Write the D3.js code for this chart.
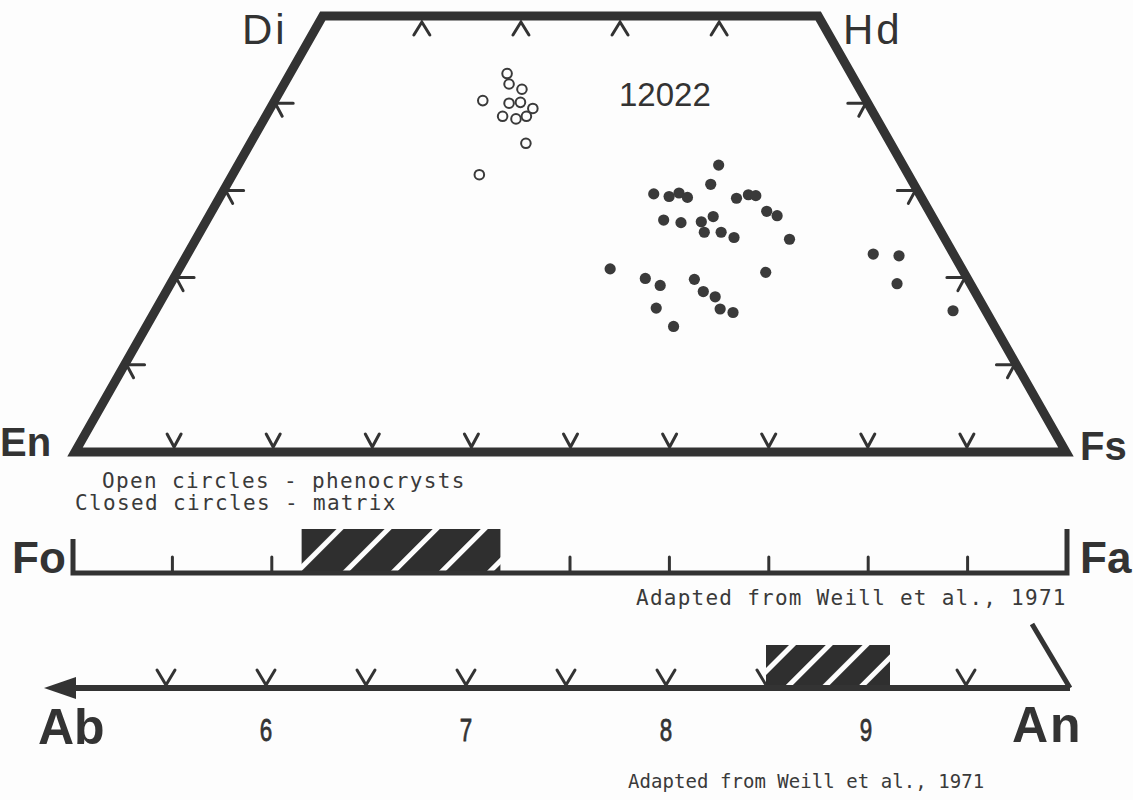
<!DOCTYPE html>
<html>
<head>
  <meta charset="utf-8">
  <title>12022 pyroxene, olivine and plagioclase compositions</title>
  <script src="https://cdnjs.cloudflare.com/ajax/libs/d3/7.8.5/d3.min.js"></script>
  <style>
    body { margin: 0; background: #fdfdfd; }
    svg { display: block; }
    .edge { fill: none; stroke: #333; stroke-linejoin: miter; }
    .tick { fill: none; stroke: #333; stroke-width: 3; stroke-linecap: round; }
    .lbl { fill: #333; font-family: "Liberation Sans", Arial, sans-serif; }
    .mono { fill: #3a3a3a; font-family: "DejaVu Sans Mono", "Liberation Mono", monospace; }
  </style>
</head>
<body>
  <div id="chart"></div>
  <script>
    const phenoWo = [43.4, 42.2, 41.6, 40.3, 40.0, 40.1, 39.4, 38.5, 38.2, 38.5, 35.4, 31.8];
    const phenoFs = [21.9, 22.7, 24.3, 21.0, 23.8, 24.9, 26.5, 23.9, 25.4, 26.3, 27.8, 24.9];
    const matrixWo = [32.9, 30.7, 29.6, 29.3, 29.7, 29.2, 29.1, 29.5, 29.4, 27.6,
                      27.1, 26.6, 26.3, 26.4, 27.0, 25.2, 25.2, 24.6, 24.4, 21.0,
                      20.6, 19.9, 19.1, 19.8, 18.4, 17.8, 16.5, 16.4, 16.0, 14.4,
                      22.7, 22.5, 19.3, 16.2];
    const matrixFs = [48.5, 48.8, 43.6, 45.3, 46.1, 47.2, 52.2, 53.2, 54.0, 56.0,
                      57.3, 46.1, 48.0, 50.0, 50.9, 50.9, 52.6, 54.2, 59.9, 43.5,
                      59.4, 47.6, 49.5, 52.6, 54.2, 55.7, 50.4, 56.9, 58.4, 53.2,
                      69.2, 71.9, 73.3, 80.5];

    // Quadrilateral tick positions
    const baseTicks = [10, 20, 30, 40, 50, 60, 70, 80, 90];
    const topTicks = [10, 20, 30, 40];
    const sideTicks = [10, 20, 30, 40];

    // Olivine (Fa mol %) and plagioclase (An mol %)
    const olivineTicks = [10, 20, 30, 40, 50, 60, 70, 80, 90];
    const olivineRange = [23, 43];
    const plagTicks = [55, 60, 65, 70, 75, 80, 85, 90, 95];
    const plagLabels = [60, 70, 80, 90];
    const plagRange = [85, 91.2];

    const width = 1133, height = 800;
    const ink = "#333";

    const svg = d3.select("#chart").append("svg")
      .attr("width", width).attr("height", height);

    // hatch patterns: dark fill with white "/" stripes
    const defs = svg.append("defs");
    function hatch(id, gap) {
      const p = defs.append("pattern")
        .attr("id", id)
        .attr("patternUnits", "userSpaceOnUse")
        .attr("width", gap).attr("height", gap)
        .attr("patternTransform", "rotate(45)");
      p.append("rect").attr("width", gap).attr("height", gap).attr("fill", "#2f2f2f");
      p.append("rect").attr("width", 5).attr("height", gap).attr("fill", "#fdfdfd");
    }
    hatch("hatchOl", 34);
    hatch("hatchPl", 26);

    // ternary projection: x from Fs + Wo/2, y from Wo
    const tx = d3.scaleLinear().domain([0, 100]).range([75, 1066]);
    const ty = d3.scaleLinear().domain([0, 50]).range([452, 16]);
    const proj = (wo, fs) => [tx(fs + wo / 2), ty(wo)];

    const En = proj(0, 0), Fs = proj(0, 100), Di = proj(50, 0), Hd = proj(50, 50);

    svg.append("path")
      .attr("class", "edge")
      .attr("stroke-width", 9)
      .attr("d", d3.line()([En, Di, Hd, Fs]) + "Z");

    const ticks = svg.append("g").attr("class", "tick");
    const tickPath = (pts) => ticks.append("path").attr("d", d3.line()(pts));

    baseTicks.forEach(f => {
      const [x, y] = proj(0, f);
      tickPath([[x - 7, y - 18], [x, y - 5], [x + 7, y - 18]]);
    });
    topTicks.forEach(f => {
      const [x, y] = proj(50, f);
      tickPath([[x - 8, y + 19], [x, y + 6], [x + 8, y + 19]]);
    });
    sideTicks.forEach(w => {
      const [x, y] = proj(w, 0);
      tickPath([[x + 20, y], [x + 2, y], [x + 9, y + 13]]);
      const [x2, y2] = proj(w, 100 - w);
      tickPath([[x2 - 20, y2], [x2 - 2, y2], [x2 - 9, y2 + 13]]);
    });

    // points
    svg.append("g").selectAll("circle")
      .data(phenoWo.map((w, i) => proj(w, phenoFs[i])))
      .join("circle")
      .attr("cx", d => d[0]).attr("cy", d => d[1]).attr("r", 4.8)
      .attr("fill", "#fdfdfd").attr("stroke", "#3a3a3a").attr("stroke-width", 2);

    svg.append("g").selectAll("circle")
      .data(matrixWo.map((w, i) => proj(w, matrixFs[i])))
      .join("circle")
      .attr("cx", d => d[0]).attr("cy", d => d[1]).attr("r", 5.6)
      .attr("fill", "#3a3a3a");

    // corner labels
    svg.append("text").attr("class", "lbl").attr("x", 242).attr("y", 44)
      .attr("font-size", 42).attr("letter-spacing", 3).text("Di");
    svg.append("text").attr("class", "lbl").attr("x", 843).attr("y", 44)
      .attr("font-size", 42).attr("letter-spacing", 3).text("Hd");
    svg.append("text").attr("class", "lbl").attr("x", 0).attr("y", 456)
      .attr("font-size", 40).attr("font-weight", 600).text("En");
    svg.append("text").attr("class", "lbl").attr("x", 1080).attr("y", 460)
      .attr("font-size", 40).attr("font-weight", 600).text("Fs");
    svg.append("text").attr("class", "lbl").attr("x", 619).attr("y", 106)
      .attr("font-size", 33).text("12022");

    // legend
    svg.append("text").attr("class", "mono").attr("x", 102).attr("y", 488)
      .attr("font-size", 21).attr("letter-spacing", 1.35).text("Open circles - phenocrysts");
    svg.append("text").attr("class", "mono").attr("x", 75).attr("y", 510)
      .attr("font-size", 21).attr("letter-spacing", 1.35).text("Closed circles - matrix");

    // olivine bar
    const ox = d3.scaleLinear().domain([0, 100]).range([73, 1067]);
    const oy = 573;
    svg.append("g").attr("class", "tick").selectAll("line")
      .data(olivineTicks).join("line")
      .attr("x1", d => ox(d)).attr("x2", d => ox(d))
      .attr("y1", oy).attr("y2", oy - 16);
    svg.append("rect")
      .attr("x", ox(olivineRange[0])).attr("y", oy - 44)
      .attr("width", ox(olivineRange[1]) - ox(olivineRange[0])).attr("height", 44)
      .attr("fill", "url(#hatchOl)");
    svg.append("path").attr("class", "edge").attr("stroke-width", 5)
      .attr("d", `M${ox(0)},${oy - 34}V${oy}H${ox(100)}V${oy - 44}`);
    svg.append("text").attr("class", "lbl").attr("x", 12).attr("y", 573)
      .attr("font-size", 44).attr("font-weight", 700).text("Fo");
    svg.append("text").attr("class", "lbl").attr("x", 1080).attr("y", 573)
      .attr("font-size", 44).attr("font-weight", 700).text("Fa");
    svg.append("text").attr("class", "mono").attr("x", 636).attr("y", 605)
      .attr("font-size", 21).attr("letter-spacing", 1.25).text("Adapted from Weill et al., 1971");

    // plagioclase bar
    const px = d3.scaleLinear().domain([50, 100]).range([66, 1066]);
    const py = 688;
    svg.append("g").attr("class", "tick").selectAll("path")
      .data(plagTicks).join("path")
      .attr("d", d => d3.line()([[px(d) - 9, py - 18], [px(d), py - 3], [px(d) + 9, py - 18]]));
    svg.append("rect")
      .attr("x", px(plagRange[0])).attr("y", py - 43)
      .attr("width", px(plagRange[1]) - px(plagRange[0])).attr("height", 43)
      .attr("fill", "url(#hatchPl)");
    svg.append("line").attr("class", "edge").attr("stroke-width", 6)
      .attr("x1", 70).attr("x2", px(100) + 4).attr("y1", py).attr("y2", py);
    svg.append("line").attr("class", "edge").attr("stroke-width", 5)
      .attr("x1", 1032).attr("y1", 624).attr("x2", px(100) + 4).attr("y2", py);
    svg.append("path").attr("fill", ink)
      .attr("d", `M44,${py}L76,${py - 11}L76,${py + 11}Z`);

    // condensed numerals: squeeze horizontally
    const sq = 0.7;
    svg.append("g").attr("transform", `scale(${sq},1)`)
      .selectAll("text")
      .data(plagLabels).join("text")
      .attr("class", "lbl")
      .attr("x", d => px(d) / sq).attr("y", 741)
      .attr("text-anchor", "middle")
      .attr("font-size", 32)
      .attr("stroke", "#333").attr("stroke-width", 0.8)
      .text(d => d / 10);

    svg.append("text").attr("class", "lbl").attr("x", 38).attr("y", 744)
      .attr("font-size", 50).attr("font-weight", 700).text("Ab");
    svg.append("text").attr("class", "lbl").attr("x", 1012).attr("y", 742)
      .attr("font-size", 50).attr("font-weight", 700).attr("letter-spacing", 2).text("An");
    svg.append("text").attr("class", "mono").attr("x", 628).attr("y", 788)
      .attr("font-size", 19).attr("letter-spacing", 0.05).text("Adapted from Weill et al., 1971");
  </script>
</body>
</html>
